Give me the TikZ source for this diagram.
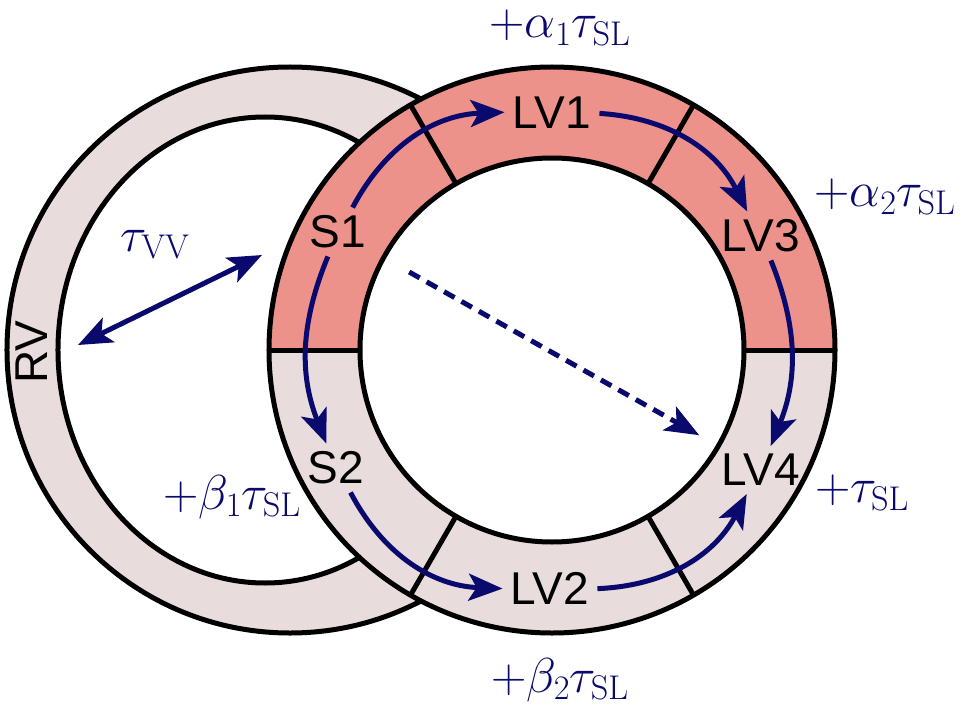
\documentclass[tikz,border=0pt]{standalone}
\usepackage{fix-cm}
\usepackage{amsmath}
\usepackage{fontspec}
\setsansfont{Liberation Sans}
\usepackage{tikz}
\usetikzlibrary{arrows.meta}

\definecolor{lvred}{RGB}{237,145,139}
\definecolor{wallgrey}{RGB}{232,220,220}
\definecolor{pathblue}{RGB}{10,10,110}

\begin{document}
\begin{tikzpicture}[x=1pt,y=1pt,
    >={Stealth[length=34pt,width=27pt,inset=8pt]},
    wall/.style={line width=5pt},
    seg/.style={font=\fontsize{46}{46}\sffamily, inner sep=8pt},
    delay/.style={text=pathblue, font=\fontsize{49}{49}\selectfont},
    prop/.style={->, pathblue, line width=5pt}]
    \useasboundingbox (-552,-357) rectangle (413,350);
    % RV
    \filldraw[wall, fill=wallgrey] (-262,0) circle (283);
    \filldraw[wall, fill=white] (-287,0) ellipse (207 and 233);
    % LV
    \fill[lvred] (283,0) arc (0:180:283) -- (-192,0) arc (180:0:192) -- cycle;
    \fill[wallgrey] (283,0) arc (0:-180:283) -- (-192,0) arc (-180:0:192) -- cycle;
    \draw[wall] (0,0) circle (283);
    \filldraw[wall, fill=white] (0,0) circle (192);
    \foreach \a in {0,60,...,300}{
        \draw[wall] (\a:192) -- (\a:283);
    }
    % segments
    \node[seg] (s1) at (-214,118) {S1};
    \node[seg] (s2) at (-216,-118) {S2};
    \node[seg] (lv1) at (0,237) {LV1};
    \node[seg] (lv2) at (-2,-238) {LV2};
    \node[seg] (lv3) at (209,114) {LV3};
    \node[seg] (lv4) at (209,-120) {LV4};
    \node[seg, rotate=90] (rv) at (-520,-2) {RV};
    % activation
    \draw[prop] (s1) to[bend left=30] (lv1);
    \draw[prop] (lv1) to[bend left=30] (lv3);
    \draw[prop] (lv3) to[bend left=22] (lv4);
    \draw[prop] (s1) to[bend right=22] (s2);
    \draw[prop] (s2) to[bend right=30] (lv2);
    \draw[prop] (lv2) to[bend right=30] (lv4);
    \draw[prop, dash pattern=on 12pt off 8pt, shorten <=40pt, shorten >=22pt] (s1) -- (lv4);
    \coordinate (rvwall) at (-474,5);
    \coordinate (lvwall) at (-290,95);
    \draw[prop, <->] (rvwall) -- (lvwall);
    % delays
    \node[delay] (tvv) at (-397,105) {$\tau_{\mathrm{VV}}$};
    \node[delay] (da1) at (8,322) {$+\alpha_1\tau_{\mathrm{SL}}$};
    \node[delay] (da2) at (333,153) {$+\alpha_2\tau_{\mathrm{SL}}$};
    \node[delay] (dsl) at (310,-143) {$+\tau_{\mathrm{SL}}$};
    \node[delay] (db2) at (8,-330) {$+\beta_2\tau_{\mathrm{SL}}$};
    \node[delay] (db1) at (-320,-147) {$+\beta_1\tau_{\mathrm{SL}}$};
\end{tikzpicture}
\end{document}
